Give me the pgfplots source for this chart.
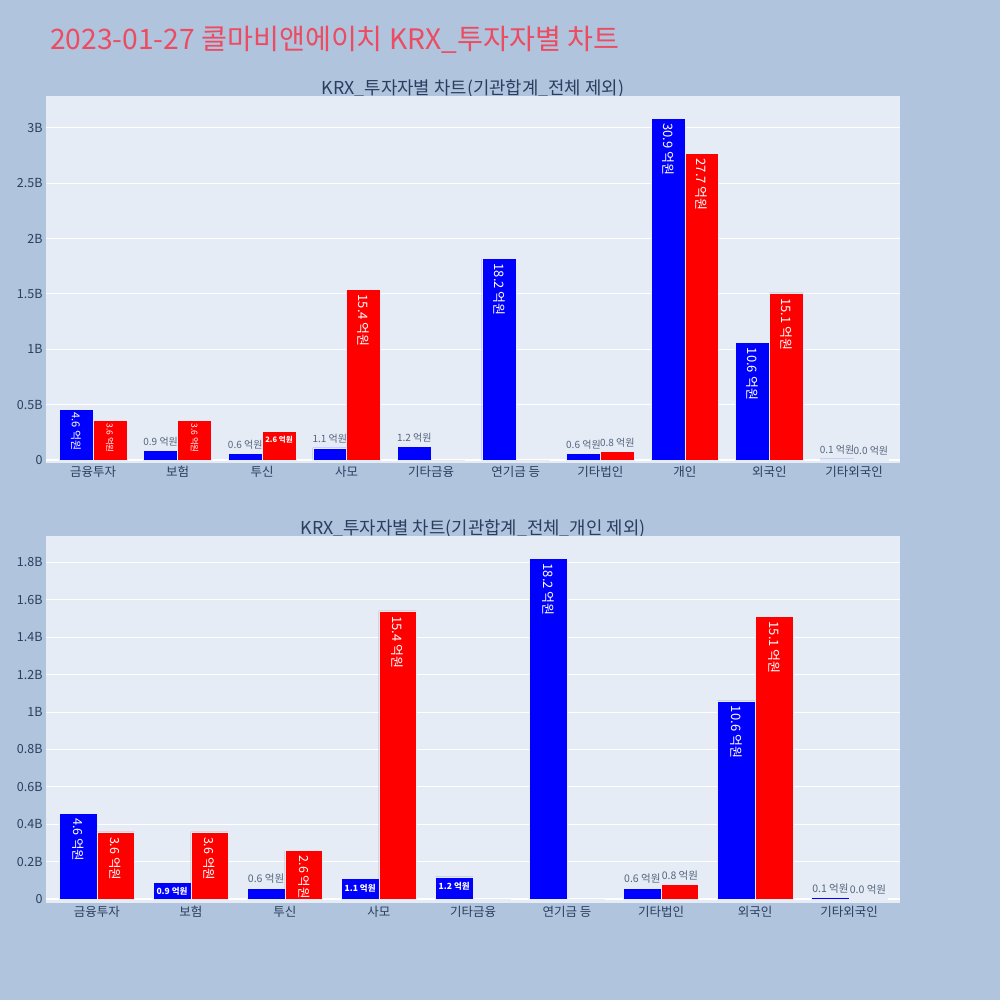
\documentclass[border=0pt]{standalone}
\usepackage{fontspec}
\setmainfont{Noto Sans CJK KR}
\usepackage{pgfplots}
\pgfplotsset{compat=1.18}
\definecolor{bgc}{HTML}{B0C4DE}
\definecolor{plotbg}{HTML}{E5ECF6}
\definecolor{fontc}{HTML}{2A3F5F}
\definecolor{titc}{RGB}{236,76,98}
\definecolor{outc}{HTML}{55657D}
\definecolor{barblue}{HTML}{0000FF}
\definecolor{barred}{HTML}{FF0000}
\newcommand{\fs}[1]{\fontsize{#1}{#1}\selectfont}
\pgfplotsset{
  base/.style={
    width=854pt, height=367pt, scale only axis,
    axis background/.style={fill=plotbg},
    axis line style={draw=none},
    major tick length=0pt,
    ymajorgrids, grid style={white, line width=1pt},
    tick label style={font=\fs{12.5}, text=fontc},
    xtick={0,...,9},
    extra y ticks={0}, extra y tick labels={},
    extra y tick style={grid style={white, line width=2pt}},
    clip=false,
  },
  bluebar/.style={ybar, bar width=0.4, bar shift=-0.2, fill=barblue, draw=plotbg, line width=0.5pt},
  redbar/.style={ybar, bar width=0.4, bar shift=0.2, fill=barred, draw=plotbg, line width=0.5pt},
  rotin/.style 2 args={draw=none, mark=none, nodes near coords, point meta=explicit symbolic,
    every node near coord/.append style={anchor=west, text=white, font=\fs{#1}, inner sep=0pt, rotate=-90, xshift=#2}},
  horin/.style={draw=none, mark=none, nodes near coords, point meta=explicit symbolic,
    every node near coord/.append style={anchor=north, text=white, font=\fs{#1}\bfseries, inner sep=0pt, yshift=-5pt}},
  outl/.style={draw=none, mark=none, nodes near coords, point meta=explicit symbolic,
    every node near coord/.append style={anchor=south, text=outc, font=\fs{#1}, inner sep=0pt, yshift=4pt}},
}
\begin{document}
\begin{tikzpicture}[x=1pt,y=1pt]
\fill[bgc] (0,0) rectangle (1000,1000);
\node[anchor=west, text=titc, font=\fs{28.2}, inner sep=0pt] at (50,960) {2023-01-27 콜마비앤에이치 KRX\_투자자별 차트};
\node[text=fontc, font=\fs{17.8}, inner sep=0pt] at (473,911) {KRX\_투자자별 차트(기관합계\_전체 제외)};
\node[text=fontc, font=\fs{17.8}, inner sep=0pt] at (473,471) {KRX\_투자자별 차트(기관합계\_전체\_개인 제외)};

% ---------- top axis ----------
\begin{axis}[base, at={(46pt,537pt)}, anchor=south west,
  xmin=-0.556, xmax=9.544, ymin=-0.027, ymax=3.289,
  xticklabels={금융투자,보험,투신,사모,기타금융,연기금 등,기타법인,개인,외국인,기타외국인},
  ytick={0,0.5,1,1.5,2,2.5,3},
  yticklabels={0,0.5B,1B,1.5B,2B,2.5B,3B}]
\addplot[bluebar] coordinates {(0,0.46) (1,0.09) (2,0.06) (3,0.11) (4,0.12) (5,1.82) (6,0.06) (7,3.09) (8,1.06) (9,0.01)};
\addplot[redbar] coordinates {(0,0.36) (1,0.36) (2,0.26) (3,1.54) (4,0) (5,0) (6,0.08) (7,2.77) (8,1.51) (9,0.004)};
\addplot[rotin={13}{5pt}] coordinates {(3.2,1.54) [15.4 억원] (4.8,1.82) [18.2 억원] (6.8,3.09) [30.9 억원] (7.2,2.77) [27.7 억원] (7.8,1.06) [10.6 억원] (8.2,1.51) [15.1 억원]};
\addplot[rotin={11}{3pt}] coordinates {(-0.2,0.46) [4.6 억원]};
\addplot[rotin={8.5}{3pt}] coordinates {(0.2,0.36) [3.6 억원] (1.2,0.36) [3.6 억원]};
\addplot[horin=7.5] coordinates {(2.2,0.26) [2.6 억원]};
\addplot[outl=10] coordinates {(0.8,0.09) [0.9 억원] (1.8,0.06) [0.6 억원] (2.8,0.11) [1.1 억원] (3.8,0.12) [1.2 억원] (5.8,0.06) [0.6 억원] (6.2,0.08) [0.8 억원] (8.8,0.01) [0.1 억원] (9.2,0.004) [0.0 억원]};
\end{axis}

% ---------- bottom axis ----------
\begin{axis}[base, at={(46pt,97pt)}, anchor=south west,
  xmin=-0.54, xmax=8.54, ymin=-0.02, ymax=1.94,
  xticklabels={금융투자,보험,투신,사모,기타금융,연기금 등,기타법인,외국인,기타외국인},
  xtick={0,...,8},
  ytick={0,0.2,0.4,0.6,0.8,1,1.2,1.4,1.6,1.8},
  yticklabels={0,0.2B,0.4B,0.6B,0.8B,1B,1.2B,1.4B,1.6B,1.8B}]
\addplot[bluebar] coordinates {(0,0.46) (1,0.09) (2,0.06) (3,0.11) (4,0.12) (5,1.82) (6,0.06) (7,1.06) (8,0.01)};
\addplot[redbar] coordinates {(0,0.36) (1,0.36) (2,0.26) (3,1.54) (4,0) (5,0) (6,0.08) (7,1.51) (8,0.004)};
\addplot[rotin={13}{5pt}] coordinates {(3.2,1.54) [15.4 억원] (4.8,1.82) [18.2 억원] (6.8,1.06) [10.6 억원] (7.2,1.51) [15.1 억원]};
\addplot[rotin={12.5}{5pt}] coordinates {(-0.2,0.46) [4.6 억원] (0.2,0.36) [3.6 억원] (1.2,0.36) [3.6 억원] (2.2,0.26) [2.6 억원]};
\addplot[horin=8.5] coordinates {(0.8,0.09) [0.9 억원] (2.8,0.11) [1.1 억원] (3.8,0.12) [1.2 억원]};
\addplot[outl=10.5] coordinates {(1.8,0.06) [0.6 억원] (5.8,0.06) [0.6 억원] (6.2,0.08) [0.8 억원] (7.8,0.01) [0.1 억원] (8.2,0.004) [0.0 억원]};
\end{axis}
\end{tikzpicture}
\end{document}
